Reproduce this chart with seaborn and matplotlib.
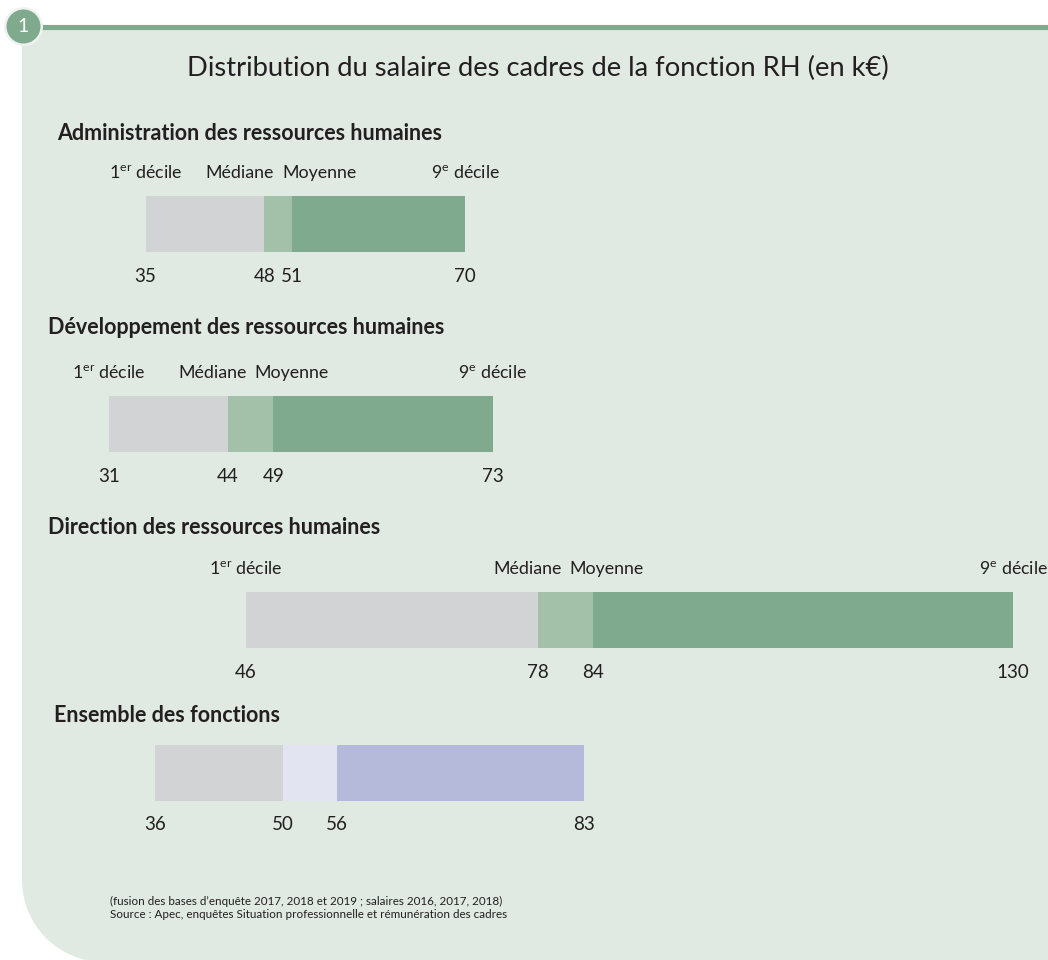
import numpy as np
import pandas as pd
import matplotlib
matplotlib.use("Agg")
import matplotlib.pyplot as plt
from matplotlib.path import Path
from matplotlib.patches import PathPatch, Circle
import seaborn as sns

# ---------------- data ----------------
sections = ["Administration des ressources humaines",
            "Développement des ressources humaines",
            "Direction des ressources humaines",
            "Ensemble des fonctions"]
decile1 = [35, 31, 46, 36]
medians = [48, 44, 78, 50]
means = [51, 49, 84, 56]
decile9 = [70, 73, 130, 83]
show_markers = [True, True, True, False]
marker_labels = ["1$^{\\mathregular{er}}$ décile", "Médiane", "Moyenne",
                 "9$^{\\mathregular{e}}$ décile"]
title = "Distribution du salaire des cadres de la fonction RH (en k€)"
footnote = ["(fusion des bases d’enquête 2017, 2018 et 2019 ; salaires 2016, 2017, 2018)",
            "Source : Apec, enquêtes Situation professionnelle et rémunération des cadres"]
badge = "1"

# ---------------- style ----------------
sns.set_theme(style="white")
plt.rcParams["font.family"] = ["Lato", "DejaVu Sans"]
plt.rcParams["mathtext.fontset"] = "custom"
plt.rcParams["mathtext.rm"] = "Lato"
TXT = "#231F20"
BG = "#E0EAE3"
GREEN = "#80AA8D"
palettes = [["#D1D3D4", "#A3C0A9", "#80AA8D"]] * 3 + [["#D1D3D4", "#E3E4F2", "#B5B9DA"]]

# ---------------- layout (pixels) ----------------
W, H = 1048, 960
bar_tops = [196, 396, 592, 745]
bar_h = 56
header_y = [133, 328, 527, 716]
header_x = [57, 48, 48, 54]
X_LEFT, X_RIGHT = 19.06, 133.83   # value scale shared by all bars

fig = plt.figure(figsize=(W / 100, H / 100), dpi=100)
fig.patch.set_facecolor("white")

# background layer in pixel coordinates
bg = fig.add_axes([0, 0, 1, 1])
bg.set_xlim(0, W)
bg.set_ylim(H, 0)
bg.axis("off")

L, T, R, B, r = 22, 29, W + 2, H + 2, 82
k = 0.5523
verts = [(L, T), (R, T), (R, B), (L + r, B),
         (L + r - k * r, B), (L, B - r + k * r), (L, B - r), (L, T)]
codes = [Path.MOVETO, Path.LINETO, Path.LINETO, Path.LINETO,
         Path.CURVE4, Path.CURVE4, Path.CURVE4, Path.CLOSEPOLY]
bg.add_patch(PathPatch(Path(verts, codes), facecolor=BG, edgecolor="none"))
bg.plot([40, W], [26.7, 26.7], color=GREEN, lw=3.7, solid_capstyle="butt")
bg.add_patch(Circle((23.5, 26.5), 19.5, facecolor="#EEF3EF", edgecolor="none", zorder=3))
bg.add_patch(Circle((23.5, 26.5), 17.0, facecolor=GREEN, edgecolor="none", zorder=4))
bg.text(23.5, 27.0, badge, color="white", fontsize=14, ha="center", va="center",
        zorder=5)

bg.text(538, 68, title, color=TXT, fontsize=19.7, ha="center", va="center")
for i, name in enumerate(sections):
    bg.text(header_x[i], header_y[i], name, color=TXT, fontsize=15.5,
            fontweight="bold", ha="left", va="center")
bg.text(110, 901, footnote[0], color=TXT, fontsize=8.4, ha="left", va="center")
bg.text(110, 914, footnote[1], color=TXT, fontsize=8.4, ha="left", va="center")

# data layer: x in k€, y in pixel rows
ax = fig.add_axes([0, 0, 1, 1], facecolor="none")
for i in range(len(sections)):
    yc = bar_tops[i] + bar_h / 2
    pal = palettes[i]
    layers = [(decile9[i], pal[2]), (means[i], pal[1]), (medians[i], pal[0])]
    for end, col in layers:
        seg = pd.DataFrame({"val": [end - decile1[i]], "row": [yc]})
        sns.barplot(data=seg, x="val", y="row", orient="h", native_scale=True,
                    width=bar_h, color=col, saturation=1, errorbar=None,
                    left=[decile1[i]], linewidth=0, ax=ax)

    ytop = bar_tops[i] - 23
    ybot = bar_tops[i] + bar_h + 24
    if show_markers[i]:
        mid = (medians[i] + means[i]) / 2
        ax.text(decile1[i], ytop, marker_labels[0], color=TXT, fontsize=12.8,
                ha="center", va="center")
        ax.text(mid - 0.45, ytop, marker_labels[1], color=TXT, fontsize=12.8,
                ha="right", va="center")
        ax.text(mid + 0.45, ytop, marker_labels[2], color=TXT, fontsize=12.8,
                ha="left", va="center")
        ax.text(decile9[i], ytop, marker_labels[3], color=TXT, fontsize=12.8,
                ha="center", va="center")
    for v in (decile1[i], medians[i], means[i], decile9[i]):
        ax.text(v, ybot, f"{v}", color=TXT, fontsize=13.5, ha="center", va="center")

ax.set_xlim(X_LEFT, X_RIGHT)
ax.set_ylim(H, 0)
ax.axis("off")

fig.savefig("out.png", dpi=100, facecolor="white")
